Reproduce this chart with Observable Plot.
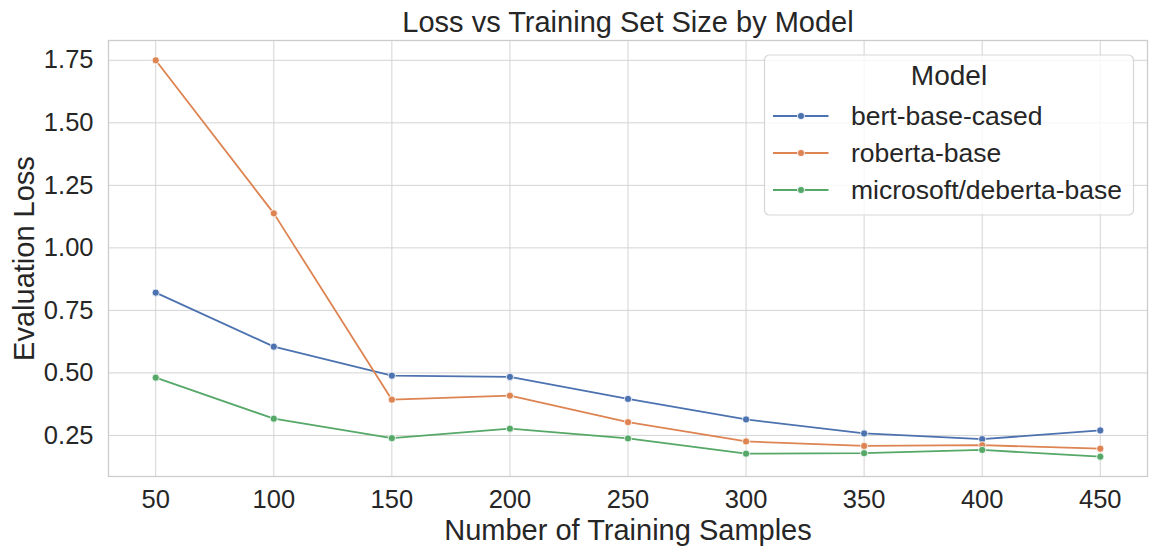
<!DOCTYPE html>
<html>
<head>
<meta charset="utf-8">
<script src="https://cdn.jsdelivr.net/npm/d3@7"></script>
<script src="https://cdn.jsdelivr.net/npm/@observablehq/plot@0.6"></script>
<style>
  body { margin: 0; background: #fff; }
  #wrap { position: relative; width: 1157px; height: 557px; font-family: "Liberation Sans", Arial, sans-serif; color: #262626; }
  #legend { position: absolute; left: 0; top: 0; pointer-events: none; }
</style>
</head>
<body>
<div id="wrap"></div>
<script>
// ---- data ----
const models = ["bert-base-cased", "roberta-base", "microsoft/deberta-base"];
const colors = ["#4c72b0", "#dd8452", "#55a868"];
const sizes = [50, 100, 150, 200, 250, 300, 350, 400, 450];
const bertLoss = [0.821, 0.605, 0.489, 0.484, 0.396, 0.314, 0.258, 0.235, 0.270];
const robertaLoss = [1.750, 1.138, 0.393, 0.409, 0.303, 0.226, 0.208, 0.211, 0.197];
const debertaLoss = [0.481, 0.317, 0.239, 0.277, 0.238, 0.177, 0.179, 0.192, 0.165];
const yTicks = [0.25, 0.50, 0.75, 1.00, 1.25, 1.50, 1.75];
const titleText = "Loss vs Training Set Size by Model";
const xLabel = "Number of Training Samples";
const yLabel = "Evaluation Loss";
const legendTitle = "Model";

const series = [bertLoss, robertaLoss, debertaLoss];
const data = [];
series.forEach((vals, k) => vals.forEach((v, i) => data.push({model: models[k], size: sizes[i], loss: v})));

// seaborn-like 5% margins
const allY = series.flat();
const yMin = d3.min(allY), yMax = d3.max(allY), yPad = 0.05 * (yMax - yMin);
const xMin = d3.min(sizes), xMax = d3.max(sizes), xPad = 0.05 * (xMax - xMin);

const ink = "#262626";
const grid = "#d4d4d4";

const chart = Plot.plot({
  width: 1157,
  height: 557,
  marginTop: 40,
  marginBottom: 81,
  marginLeft: 108,
  marginRight: 10,
  style: {fontFamily: '"Liberation Sans", Arial, sans-serif', color: ink, background: "#fff"},
  x: {domain: [xMin - xPad, xMax + xPad]},
  y: {domain: [yMin - yPad, yMax + yPad]},
  color: {domain: models, range: colors},
  marks: [
    Plot.gridX({ticks: sizes, stroke: grid, strokeOpacity: 1, strokeWidth: 1}),
    Plot.gridY({ticks: yTicks, stroke: grid, strokeOpacity: 1, strokeWidth: 1}),
    Plot.frame({stroke: "#cccccc", strokeWidth: 1.3}),
    Plot.axisX({ticks: sizes, tickSize: 0, tickPadding: 13, fontSize: 25.5, label: null, fill: ink}),
    Plot.axisY({ticks: yTicks, tickFormat: d3.format(".2f"), tickSize: 0, tickPadding: 15, fontSize: 25.5, label: null, fill: ink}),
    Plot.line(data, {x: "size", y: "loss", z: "model", stroke: "model", strokeWidth: 1.8}),
    Plot.dot(data, {x: "size", y: "loss", fill: "model", stroke: "white", strokeWidth: 0.8, r: 3.6}),
    Plot.text([titleText], {text: d => d, frameAnchor: "top", textAnchor: "middle", lineAnchor: "bottom", dy: -8.3, fontSize: 29, fill: ink}),
    Plot.text([xLabel], {text: d => d, frameAnchor: "bottom", textAnchor: "middle", lineAnchor: "bottom", dy: 63.5, fontSize: 29, fill: ink}),
    Plot.text([yLabel], {text: d => d, frameAnchor: "left", textAnchor: "middle", lineAnchor: "bottom", rotate: -90, dx: -75, fontSize: 29, fill: ink})
  ]
});
const wrap = document.getElementById("wrap");
wrap.appendChild(chart);

// ---- legend overlay ----
const lg = d3.select(wrap).append("svg").attr("id", "legend").attr("width", 1157).attr("height", 557);
const L = {x: 764.5, y: 55, w: 369, h: 160};
lg.append("rect").attr("x", L.x).attr("y", L.y).attr("width", L.w).attr("height", L.h)
  .attr("rx", 5).attr("fill", "rgba(255,255,255,0.8)").attr("stroke", "rgba(204,204,204,0.8)").attr("stroke-width", 1.2);
lg.append("text").attr("x", L.x + L.w / 2).attr("y", L.y + 30).attr("text-anchor", "middle")
  .attr("font-family", '"Liberation Sans", Arial, sans-serif').attr("font-size", 28).attr("fill", ink).text(legendTitle);
models.forEach((m, i) => {
  const cy = L.y + 61 + i * 37;
  lg.append("line").attr("x1", L.x + 8.5).attr("x2", L.x + 64).attr("y1", cy).attr("y2", cy)
    .attr("stroke", colors[i]).attr("stroke-width", 1.8);
  lg.append("circle").attr("cx", L.x + 36.5).attr("cy", cy).attr("r", 3.6)
    .attr("fill", colors[i]).attr("stroke", "white").attr("stroke-width", 0.8);
  lg.append("text").attr("x", L.x + 86.5).attr("y", cy + 9).attr("font-family", '"Liberation Sans", Arial, sans-serif')
    .attr("font-size", 26.5).attr("fill", ink).text(m);
});
</script>
</body>
</html>
